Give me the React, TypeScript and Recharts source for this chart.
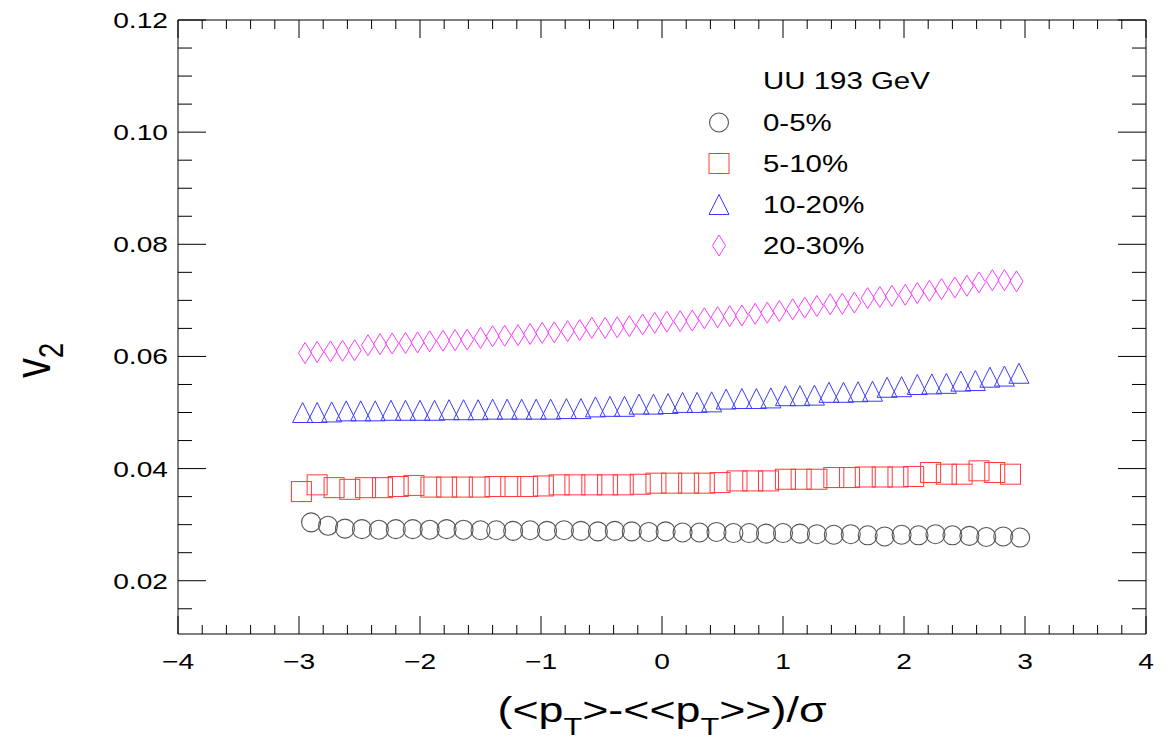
import React from 'react';
import { ScatterChart, Scatter, XAxis, YAxis, Legend } from 'recharts';

const FONT = '"Liberation Sans", Arial, Helvetica, sans-serif';
// the reference text is drawn wider than the font's natural width
const STRETCH = 1.28;

// tick positions (major + minor)
const xTicks = [
  -4, -3.8, -3.6, -3.4, -3.2, -3, -2.8, -2.6, -2.4, -2.2, -2, -1.8, -1.6, -1.4, -1.2, -1,
  -0.8, -0.6, -0.4, -0.2, 0, 0.2, 0.4, 0.6, 0.8, 1, 1.2, 1.4, 1.6, 1.8, 2, 2.2, 2.4, 2.6,
  2.8, 3, 3.2, 3.4, 3.6, 3.8, 4,
];
const yTicks = [
  0.015, 0.02, 0.025, 0.03, 0.035, 0.04, 0.045, 0.05, 0.055, 0.06, 0.065, 0.07, 0.075,
  0.08, 0.085, 0.09, 0.095, 0.1, 0.105, 0.11, 0.115, 0.12,
];

// 0-5%
const circleX = [
  -2.9, -2.76, -2.62, -2.48, -2.34, -2.2, -2.06, -1.92, -1.78, -1.64, -1.5, -1.37, -1.23,
  -1.09, -0.95, -0.81, -0.67, -0.53, -0.39, -0.25, -0.11, 0.03, 0.17, 0.31, 0.45, 0.59,
  0.72, 0.86, 1.0, 1.14, 1.28, 1.42, 1.56, 1.7, 1.84, 1.98, 2.12, 2.26, 2.4, 2.54, 2.68,
  2.82, 2.96,
];
const circleY = [
  0.0304, 0.0298, 0.0293, 0.0292, 0.0291, 0.0292, 0.0292, 0.0291, 0.0292, 0.0291,
  0.029, 0.029, 0.0289, 0.029, 0.0289, 0.029, 0.0289, 0.0288, 0.0289, 0.0288,
  0.0287, 0.0288, 0.0286, 0.0286, 0.0287, 0.0285, 0.0285, 0.0284, 0.0285, 0.0284,
  0.0283, 0.0282, 0.0283, 0.0281, 0.0279, 0.0282, 0.0281, 0.0283, 0.0281, 0.028,
  0.0278, 0.0279, 0.0277,
];

// 5-10%
const squareX = [
  -2.98, -2.85, -2.71, -2.58, -2.45, -2.31, -2.18, -2.05, -1.91, -1.78, -1.65, -1.51,
  -1.38, -1.25, -1.11, -0.98, -0.85, -0.72, -0.58, -0.45, -0.32, -0.18, -0.05, 0.08, 0.22,
  0.35, 0.48, 0.62, 0.75, 0.88, 1.02, 1.15, 1.28, 1.42, 1.55, 1.68, 1.82, 1.95, 2.08, 2.22,
  2.35, 2.48, 2.62, 2.75, 2.88,
];
const squareY = [
  0.0359, 0.0371, 0.0366, 0.0363, 0.0366, 0.0366, 0.0368, 0.037, 0.0367, 0.0367,
  0.0367, 0.0367, 0.0368, 0.0368, 0.0368, 0.0369, 0.0371, 0.0371, 0.0371, 0.0371,
  0.0371, 0.0372, 0.0374, 0.0374, 0.0374, 0.0374, 0.0375, 0.0378, 0.0378, 0.0378,
  0.0381, 0.0381, 0.0381, 0.0384, 0.0384, 0.0385, 0.0385, 0.0385, 0.0386, 0.0393,
  0.039, 0.039, 0.0396, 0.0393, 0.039,
];

// 10-20%
const triangleX = [
  -2.97, -2.85, -2.73, -2.61, -2.49, -2.37, -2.24, -2.12, -2.0, -1.88, -1.76, -1.64, -1.52,
  -1.4, -1.28, -1.16, -1.04, -0.92, -0.79, -0.67, -0.55, -0.43, -0.31, -0.19, -0.07, 0.05,
  0.17, 0.29, 0.41, 0.53, 0.66, 0.78, 0.9, 1.02, 1.14, 1.26, 1.38, 1.5, 1.62, 1.74, 1.86,
  1.98, 2.11, 2.23, 2.35, 2.47, 2.59, 2.71, 2.83, 2.95,
];
const triangleY = [
  0.05, 0.05, 0.0501, 0.0503, 0.0503, 0.0503, 0.0504, 0.0504, 0.0504, 0.0504,
  0.0505, 0.0505, 0.0505, 0.0506, 0.0506, 0.0506, 0.0506, 0.0506, 0.0507, 0.0507,
  0.051, 0.0511, 0.0511, 0.0515, 0.0515, 0.0516, 0.0518, 0.0518, 0.0519, 0.0524,
  0.0525, 0.0525, 0.0526, 0.053, 0.053, 0.0531, 0.0536, 0.0536, 0.0537, 0.0538,
  0.0545, 0.0546, 0.055, 0.0551, 0.0552, 0.0556, 0.0557, 0.0563, 0.0565, 0.057,
];

// 20-30%
const diamondX = [
  -2.95, -2.85, -2.74, -2.64, -2.54, -2.43, -2.33, -2.23, -2.12, -2.02, -1.92, -1.81, -1.71,
  -1.61, -1.5, -1.4, -1.3, -1.19, -1.09, -0.99, -0.89, -0.78, -0.68, -0.58, -0.47, -0.37,
  -0.27, -0.16, -0.06, 0.04, 0.15, 0.25, 0.35, 0.46, 0.56, 0.66, 0.77, 0.87, 0.97, 1.08,
  1.18, 1.28, 1.39, 1.49, 1.59, 1.7, 1.8, 1.9, 2.01, 2.11, 2.21, 2.31, 2.42, 2.52, 2.62,
  2.73, 2.83, 2.93,
];
const diamondY = [
  0.0606, 0.0608, 0.0609, 0.061, 0.0611, 0.062, 0.0622, 0.0623, 0.0624, 0.0625,
  0.0627, 0.0628, 0.0629, 0.063, 0.0633, 0.0636, 0.0637, 0.0638, 0.064, 0.0642,
  0.0643, 0.0645, 0.0647, 0.0651, 0.0651, 0.0652, 0.0654, 0.0657, 0.066, 0.0662,
  0.0663, 0.0664, 0.0668, 0.067, 0.0672, 0.0673, 0.0676, 0.0678, 0.0681, 0.0684,
  0.0687, 0.069, 0.0693, 0.0694, 0.0696, 0.0704, 0.0706, 0.0708, 0.071, 0.0713,
  0.0717, 0.072, 0.0723, 0.0726, 0.0732, 0.0736, 0.0736, 0.0734,
];

const zip = (xs: number[], ys: number[]) => xs.map((x, i) => ({ x, y: ys[i] }));

// marker shapes (open, ROOT style)
const CircleMark = ({ cx, cy }: any) => (
  <circle cx={cx} cy={cy} r={9.5} fill="none" stroke="#555" strokeWidth={1.1} />
);
const SquareMark = ({ cx, cy }: any) => (
  <rect x={cx - 10} y={cy - 10} width={20} height={20} fill="none" stroke="#ff3a3a" strokeWidth={1} />
);
const TriangleMark = ({ cx, cy }: any) => (
  <polygon
    points={`${cx},${cy - 10} ${cx + 10},${cy + 10} ${cx - 10},${cy + 10}`}
    fill="none"
    stroke="#3a3aff"
    strokeWidth={1}
  />
);
const DiamondMark = ({ cx, cy }: any) => (
  <polygon
    points={`${cx},${cy - 10.5} ${cx + 6.5},${cy} ${cx},${cy + 10.5} ${cx - 6.5},${cy}`}
    fill="none"
    stroke="#ff3aff"
    strokeWidth={1}
  />
);

const series = [
  { name: '0-5%', data: zip(circleX, circleY), Mark: CircleMark },
  { name: '5-10%', data: zip(squareX, squareY), Mark: SquareMark },
  { name: '10-20%', data: zip(triangleX, triangleY), Mark: TriangleMark },
  { name: '20-30%', data: zip(diamondX, diamondY), Mark: DiamondMark },
];

const isMajorX = (v: number) => Math.abs(v - Math.round(v)) < 1e-6;
const isMajorY = (v: number) => Math.abs(v * 50 - Math.round(v * 50)) < 1e-6;
const fmtX = (v: number) => (v < 0 ? '\u2212' + Math.abs(Math.round(v)) : String(Math.round(v)));

function BottomTick({ x, y, payload }: any) {
  const major = isMajorX(payload.value);
  return (
    <g>
      <line x1={x} x2={x} y1={y} y2={y - (major ? 18 : 9)} stroke="#000" />
      {major && (
        <text
          transform={`translate(${x},${y + 35}) scale(${STRETCH},1)`}
          textAnchor="middle"
          fontSize={22}
          fontFamily={FONT}
          fill="#000"
        >
          {fmtX(payload.value)}
        </text>
      )}
    </g>
  );
}

function TopTick({ x, y, payload }: any) {
  const major = isMajorX(payload.value);
  return <line x1={x} x2={x} y1={y} y2={y + (major ? 18 : 9)} stroke="#000" />;
}

function LeftTick({ x, y, payload }: any) {
  const major = isMajorY(payload.value);
  return (
    <g>
      <line x1={x} x2={x + (major ? 28 : 14)} y1={y} y2={y} stroke="#000" />
      {major && (
        <text
          transform={`translate(${x - 10},${y + 8}) scale(${STRETCH},1)`}
          textAnchor="end"
          fontSize={22}
          fontFamily={FONT}
          fill="#000"
        >
          {payload.value.toFixed(2)}
        </text>
      )}
    </g>
  );
}

function RightTick({ x, y, payload }: any) {
  const major = isMajorY(payload.value);
  return <line x1={x} x2={x - (major ? 28 : 14)} y1={y} y2={y} stroke="#000" />;
}

function XTitle({ viewBox }: any) {
  const cx = viewBox.x + viewBox.width / 2;
  return (
    <text
      transform={`translate(${cx},722) scale(${STRETCH},1)`}
      textAnchor="middle"
      fontSize={35}
      fontFamily={FONT}
      fill="#000"
    >
      {'(<p'}
      <tspan fontSize={24} dy={13}>T</tspan>
      <tspan dy={-13}>{'>-<<p'}</tspan>
      <tspan fontSize={24} dy={13}>T</tspan>
      <tspan dy={-13}>{'>>)/\u03c3'}</tspan>
    </text>
  );
}

function YTitle() {
  return (
    <text
      transform={`translate(50,378) scale(${STRETCH},1) rotate(-90)`}
      textAnchor="start"
      fontSize={40}
      fontFamily={FONT}
      fill="#000"
    >
      v<tspan fontSize={27} dy={10}>2</tspan>
    </text>
  );
}

function LegendBox({ payload }: any) {
  const names = (payload || []).map((p: any) => p.value);
  // keep the series order, not the legend's own sort
  const rows = series.filter((s) => names.includes(s.name));
  return (
    <svg width={280} height={220}>
      <text
        transform={`translate(83,39) scale(${STRETCH},1)`}
        fontSize={23}
        fontFamily={FONT}
        fill="#000"
      >
        UU 193 GeV
      </text>
      {rows.map((s, i) => {
        const cy = 72.5 + i * 41;
        return (
          <g key={s.name}>
            <s.Mark cx={39} cy={cy} />
            <text
              transform={`translate(83,${cy + 8.5}) scale(${STRETCH},1)`}
              fontSize={23}
              fontFamily={FONT}
              fill="#000"
            >
              {s.name}
            </text>
          </g>
        );
      })}
    </svg>
  );
}

export default function App() {
  return (
    <div style={{ position: 'absolute', left: 0, top: 0, background: '#fff' }}>
      <ScatterChart width={1176} height={745} margin={{ top: 19, right: 29, bottom: 51, left: 78 }}>
        <XAxis
          xAxisId="top"
          orientation="top"
          type="number"
          dataKey="x"
          domain={[-4, 4]}
          allowDataOverflow
          ticks={xTicks}
          interval={0}
          height={1}
          tickLine={false}
          tickSize={0}
          tickMargin={0}
          tick={<TopTick />}
          axisLine={{ stroke: '#000' }}
        />
        <XAxis
          xAxisId="main"
          type="number"
          dataKey="x"
          domain={[-4, 4]}
          allowDataOverflow
          ticks={xTicks}
          interval={0}
          height={60}
          tickLine={false}
          tickSize={0}
          tickMargin={0}
          tick={<BottomTick />}
          axisLine={{ stroke: '#000' }}
          label={<XTitle />}
        />
        <YAxis
          yAxisId="main"
          type="number"
          dataKey="y"
          domain={[0.0105, 0.12]}
          allowDataOverflow
          ticks={yTicks}
          interval={0}
          width={100}
          tickLine={false}
          tickSize={0}
          tickMargin={0}
          tick={<LeftTick />}
          axisLine={{ stroke: '#000' }}
          label={<YTitle />}
        />
        <YAxis
          yAxisId="right"
          orientation="right"
          type="number"
          dataKey="y"
          domain={[0.0105, 0.12]}
          allowDataOverflow
          ticks={yTicks}
          interval={0}
          width={1}
          tickLine={false}
          tickSize={0}
          tickMargin={0}
          tick={<RightTick />}
          axisLine={{ stroke: '#000' }}
        />
        {series.map((s) => (
          <Scatter
            key={s.name}
            name={s.name}
            data={s.data}
            xAxisId="main"
            yAxisId="main"
            shape={s.Mark}
            isAnimationActive={false}
          />
        ))}
        {/* invisible helper so the top/right frame axes get a scale */}
        <Scatter
          name="frame"
          data={series[3].data}
          xAxisId="top"
          yAxisId="right"
          shape={() => <g />}
          legendType="none"
          isAnimationActive={false}
        />
        <Legend
          layout="horizontal"
          verticalAlign="middle"
          align="center"
          content={<LegendBox />}
          wrapperStyle={{ position: 'absolute', left: 680, top: 50, width: 280, height: 220 }}
        />
      </ScatterChart>
    </div>
  );
}
